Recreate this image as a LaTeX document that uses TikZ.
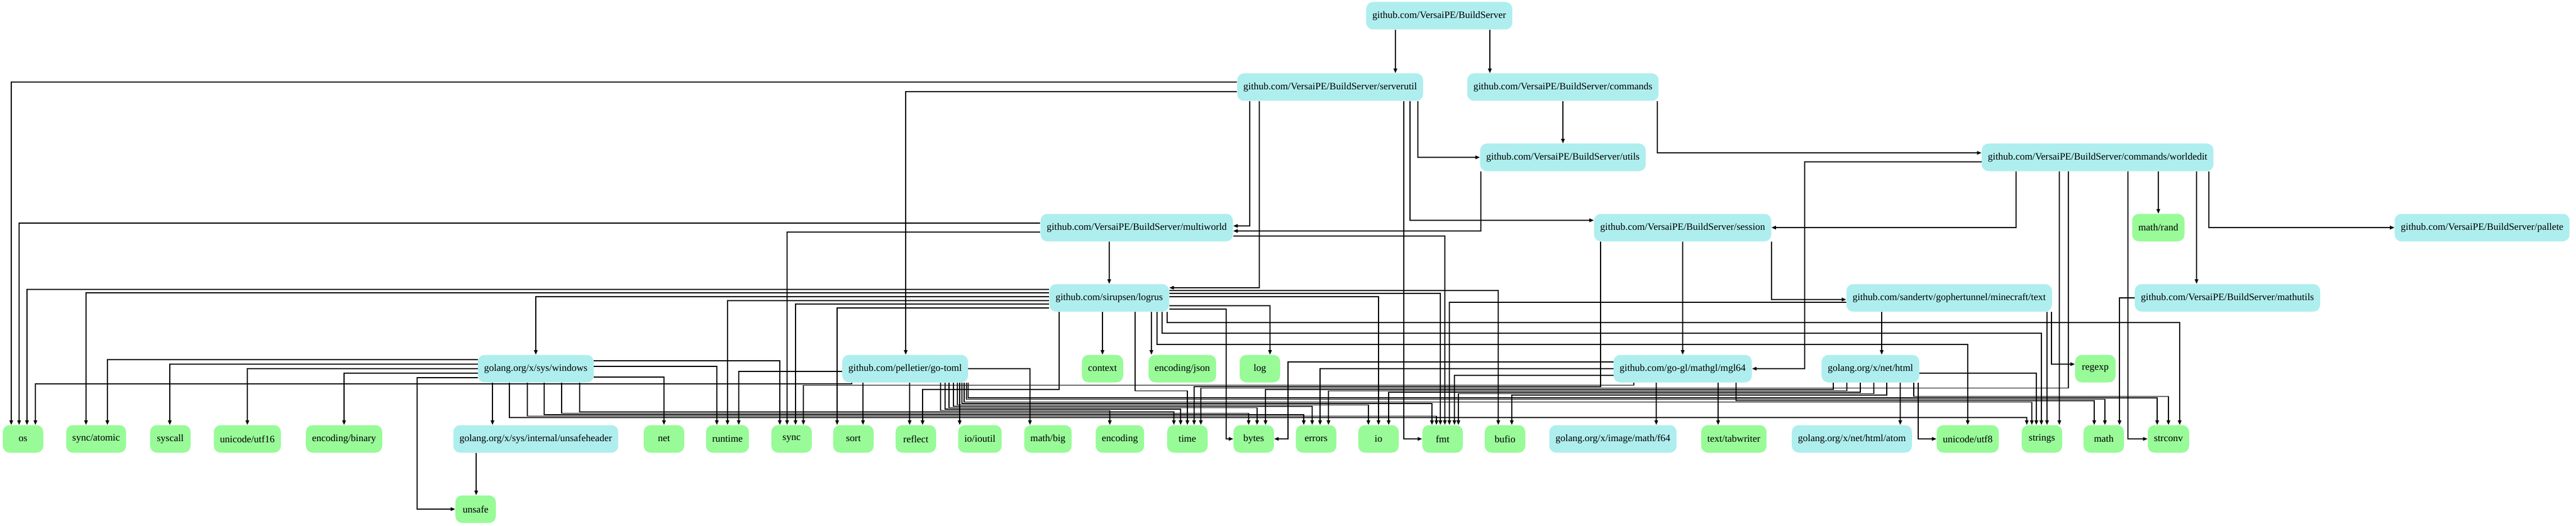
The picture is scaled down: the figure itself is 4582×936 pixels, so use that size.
\documentclass[tikz,border=0pt]{standalone}
\usepackage{fontspec}
\setmainfont{Liberation Serif}
\usetikzlibrary{arrows.meta}
\definecolor{pkgown}{HTML}{AFEEEE}
\definecolor{pkgstd}{HTML}{98FB98}

\begin{document}
\begin{tikzpicture}[x=0.5pt,y=-0.5pt,
    pkg/.style={rounded corners=6pt,minimum height=24.5pt,minimum width=36pt,
      inner xsep=5.5pt,inner ysep=0pt,font=\fontsize{8.75}{10}\selectfont}]

      \useasboundingbox (0,0) rectangle (4582,936);

      \begin{scope}[every node/.style={pkg,fill=pkgown}]
        \node (root)         at (2560,28)  {github.com/VersaiPE/BuildServer};
        \node (serverutil)   at (2366,155) {github.com/VersaiPE/BuildServer/serverutil};
        \node (commands)     at (2780,155) {github.com/VersaiPE/BuildServer/commands};
        \node (utils)        at (2780,280) {github.com/VersaiPE/BuildServer/utils};
        \node (worldedit)    at (3731,280) {github.com/VersaiPE/BuildServer/commands/worldedit};
        \node (multiworld)   at (2022,405) {github.com/VersaiPE/BuildServer/multiworld};
        \node (session)      at (2993,405) {github.com/VersaiPE/BuildServer/session};
        \node (pallete)      at (4415,405) {github.com/VersaiPE/BuildServer/pallete};
        \node (logrus)       at (1973,530) {github.com/sirupsen/logrus};
        \node (mctext)       at (3467,530) {github.com/sandertv/gophertunnel/minecraft/text};
        \node (mathutils)    at (3962,530) {github.com/VersaiPE/BuildServer/mathutils};
        \node (windows)      at (953,656)  {golang.org/x/sys/windows};
        \node (gotoml)       at (1610,656) {github.com/pelletier/go-toml};
        \node (mgl64)        at (2993,656) {github.com/go-gl/mathgl/mgl64};
        \node (html)         at (3327,656) {golang.org/x/net/html};
        \node (unsafeheader) at (953,781)  {golang.org/x/sys/internal/unsafeheader};
        \node (f64)          at (2869,781) {golang.org/x/image/math/f64};
        \node (atom)         at (3294,781) {golang.org/x/net/html/atom};
      \end{scope}

      \begin{scope}[every node/.style={pkg,fill=pkgstd}]
        \node (mathrand)   at (3839,405) {math/rand};
        \node (context)    at (1961,656) {context};
        \node (encjson)    at (2103,656) {encoding/json};
        \node (log)        at (2241,656) {log};
        \node (regexp)     at (3727,656) {regexp};
        \node (os)         at (41,781)   {os};
        \node (syncatomic) at (171,781)  {sync/atomic};
        \node (syscall)    at (303,781)  {syscall};
        \node (utf16)      at (440,781)  {unicode/utf16};
        \node (encbinary)  at (612,781)  {encoding/binary};
        \node (net)        at (1181,781) {net};
        \node (runtime)    at (1294,781) {runtime};
        \node (sync)       at (1408,781) {sync};
        \node (sort)       at (1518,781) {sort};
        \node (reflect)    at (1629,781) {reflect};
        \node (ioutil)     at (1743,781) {io/ioutil};
        \node (mathbig)    at (1864,781) {math/big};
        \node (encoding)   at (1992,781) {encoding};
        \node (time)       at (2112,781) {time};
        \node (bytes)      at (2230,781) {bytes};
        \node (errors)     at (2341,781) {errors};
        \node (io)         at (2452,781) {io};
        \node (fmt)        at (2566,781) {fmt};
        \node (bufio)      at (2677,781) {bufio};
        \node (tabwriter)  at (3084,781) {text/tabwriter};
        \node (utf8)       at (3500,781) {unicode/utf8};
        \node (strings)    at (3632,781) {strings};
        \node (math)       at (3742,781) {math};
        \node (strconv)    at (3857,781) {strconv};
        \node (unsafe)     at (846,906)  {unsafe};
      \end{scope}

      \begin{scope}[-{Triangle[length=4pt,width=3.2pt]},line width=.65pt]
        \draw (root.south -| 2482,0) -- (serverutil.north -| 2482,0);
        \draw (root.south -| 2650,0) -- (commands.north -| 2650,0);
        \draw (commands.south -| 2780,0) -- (utils.north -| 2780,0);
        \draw (worldedit.south -| 3839,0) -- (mathrand.north -| 3839,0);
        \draw (worldedit.south -| 3907,0) -- (mathutils.north -| 3907,0);
        \draw (worldedit.south -| 3663,0) -- (strings.north -| 3663,0);
        \draw (multiworld.south -| 1973,0) -- (logrus.north -| 1973,0);
        \draw (logrus.south -| 1961,0) -- (context.north -| 1961,0);
        \draw (logrus.south -| 2048,0) -- (encjson.north -| 2048,0);
        \draw (session.south -| 2993,0) -- (mgl64.north -| 2993,0);
        \draw (mctext.south -| 3347,0) -- (html.north -| 3347,0);
        \draw (mctext.south -| 3641,0) -- (strings.north -| 3641,0);
        \draw (html.south -| 3380,0) -- (atom.north -| 3380,0);
        \draw (mgl64.south -| 2946,0) -- (f64.north -| 2946,0);
        \draw (mgl64.south -| 3056,0) -- (tabwriter.north -| 3056,0);
        \draw (windows.south -| 876,0) -- (unsafeheader.north -| 876,0);
        \draw (unsafeheader.south -| 847,0) -- (unsafe.north -| 847,0);
        \draw (gotoml.south -| 1535,0) -- (sort.north -| 1535,0);
        \draw (gotoml.south -| 1618,0) -- (reflect.north -| 1618,0);
        \draw (gotoml.south -| 1707,0) -- (ioutil.north -| 1707,0);

        \draw (serverutil.west |- 0,146) -| (os.north -| 20,0);
        \draw (serverutil.west |- 0,163) -| (gotoml.north -| 1611,0);
        \draw (multiworld.west |- 0,397) -| (os.north -| 34,0);
        \draw (multiworld.west |- 0,413) -| (sync.north -| 1400,0);
        \draw (multiworld.east |- 0,420) -| (fmt.north -| 2570,0);
        \draw (logrus.west |- 0,515) -| (os.north -| 48,0);
        \draw (logrus.west |- 0,521) -| (syncatomic.north -| 153,0);
        \draw (logrus.west |- 0,528) -| (windows.north -| 953,0);
        \draw (logrus.west |- 0,535) -| (runtime.north -| 1294,0);
        \draw (logrus.west |- 0,541) -| (sync.north -| 1415,0);
        \draw (logrus.west |- 0,548) -| (sort.north -| 1489,0);
        \draw (logrus.east |- 0,517) -| (bufio.north -| 2665,0);
        \draw (logrus.east |- 0,522) -| (fmt.north -| 2562,0);
        \draw (logrus.east |- 0,528) -| (io.north -| 2452,0);
        \draw (logrus.east |- 0,544) -| (log.north -| 2259,0);
        \draw (mctext.west |- 0,538) -| (fmt.north -| 2578,0);
        \draw (mathutils.west |- 0,530) -| (math.north -| 3770,0);
        \draw (windows.west |- 0,640) -| (syncatomic.north -| 191,0);
        \draw (windows.west |- 0,648) -| (syscall.north -| 302,0);
        \draw (windows.west |- 0,656) -| (utf16.north -| 440,0);
        \draw (windows.west |- 0,664) -| (encbinary.north -| 612,0);
        \draw (windows.east |- 0,642) -| (sync.north -| 1387,0);
        \draw (windows.east |- 0,652) -| (runtime.north -| 1275,0);
        \draw (windows.east |- 0,671) -| (net.north -| 1181,0);
        \draw (gotoml.west |- 0,661) -| (runtime.north -| 1314,0);
        \draw (gotoml.east |- 0,656) -| (mathbig.north -| 1832,0);
        \draw (html.east |- 0,664) -| (strings.north -| 3622,0);
        \draw (mgl64.west |- 0,656) -| (errors.north -| 2348,0);
        \draw (mgl64.west |- 0,668) -| (fmt.north -| 2587,0);

        \draw (commands.south -| 2948,0) |- (worldedit.west |- 0,272);
        \draw (serverutil.south -| 2223,0) |- (multiworld.east |- 0,402);
        \draw (serverutil.south -| 2240,0) |- (logrus.east |- 0,512);
        \draw (serverutil.south -| 2497,0) |- (fmt.west);
        \draw (serverutil.south -| 2522,0) |- (utils.west);
        \draw (serverutil.south -| 2508,0) |- (session.west |- 0,392);
        \draw (utils.south -| 2634,0) |- (multiworld.east |- 0,411);
        \draw (worldedit.south -| 3586,0) |- (session.east);
        \draw (worldedit.south -| 3929,0) |- (pallete.west);
        \draw (worldedit.south -| 3785,0) |- (strconv.west);
        \draw (mctext.south -| 3649,0) |- (regexp.west |- 0,648);
        \draw (session.south -| 3151,0) |- (mctext.west |- 0,533);
        \draw (html.south -| 3412,0) |- (utf8.west);

        \draw (logrus.east |- 0,550) -| (bytes.west -| 2181,0) -- (bytes.west);
        \draw (worldedit.west |- 0,288) -| (mgl64.east -| 3210,0) -- (mgl64.east);
        \draw (mgl64.west |- 0,644) -| (bytes.east -| 2291,0) -- (bytes.east);
        \draw (windows.west |- 0,672) -| (unsafe.west -| 742,0) -- (unsafe.west);

        \draw (logrus.south -| 2076,0) -- (2076,574) -| (strconv.north -| 3877,0);
        \draw (logrus.south -| 2067,0) -- (2067,593) -| (strings.north -| 3631,0);
        \draw (logrus.south -| 2058,0) -- (2058,613) -| (utf8.north -| 3500,0);
        \draw (logrus.south -| 1884,0) -- (1884,693) -| (reflect.north -| 1641,0);
        \draw (logrus.south -| 2019,0) -- (2019,695.5) -| (time.north -| 2112,0);
        \draw (gotoml.south -| 1515,0) -- (1515,683) -| (os.north -| 63,0);
        \draw (mgl64.south -| 2906,0) -- (2906,685.5) -| (sync.north -| 1429,0);
        \draw (session.south -| 2847,0) -- (2847,688) -| (time.north -| 2124,0);
        \draw (worldedit.south -| 3679,0) -- (3679,690.5) -| (time.north -| 2136,0);
        \draw (html.south -| 3261,0) -- (3261,693) -| (bytes.north -| 2251,0);
        \draw (html.south -| 3285,0) -- (3285,695.5) -| (errors.north -| 2363,0);
        \draw (html.south -| 3309,0) -- (3309,698) -| (io.north -| 2470,0);
        \draw (html.south -| 3333,0) -- (3333,700.5) -| (fmt.north -| 2594,0);
        \draw (html.south -| 3356,0) -- (3356,703) -| (bufio.north -| 2689,0);
        \draw (html.south -| 3404,0) -- (3404,705.5) -| (strconv.north -| 3857,0);
        \draw (gotoml.south -| 1722,0) -- (1722,708) -| (strconv.north -| 3837,0);
        \draw (gotoml.south -| 1719,0) -- (1719,710.5) -| (math.north -| 3744,0);
        \draw (mgl64.south -| 3088,0) -- (3088,713) -| (math.north -| 3725,0);
        \draw (gotoml.south -| 1715,0) -- (1715,715.5) -| (strings.north -| 3614,0);
        \draw (gotoml.south -| 1711,0) -- (1711,718) -| (fmt.north -| 2547,0);
        \draw (gotoml.south -| 1703,0) -- (1703,720.5) -| (io.north -| 2434,0);
        \draw (gotoml.south -| 1696,0) -- (1696,723) -| (errors.north -| 2334,0);
        \draw (gotoml.south -| 1688,0) -- (1688,725.5) -| (bytes.north -| 2236,0);
        \draw (gotoml.south -| 1681,0) -- (1681,728) -| (time.north -| 2100,0);
        \draw (gotoml.south -| 1673,0) -- (1673,730.5) -| (encoding.north -| 1974,0);
        \draw (windows.south -| 1031,0) -- (1031,733) -| (time.north -| 2088,0);
        \draw (windows.south -| 999,0) -- (999,735.5) -| (bytes.north -| 2221,0);
        \draw (windows.south -| 968,0) -- (968,738) -| (errors.north -| 2319,0);
        \draw (windows.south -| 938,0) -- (938,740.5) -| (fmt.north -| 2555,0);
        \draw (windows.south -| 906,0) -- (906,743) -| (strings.north -| 3605,0);
      \end{scope}

    \end{tikzpicture}
\end{document}
